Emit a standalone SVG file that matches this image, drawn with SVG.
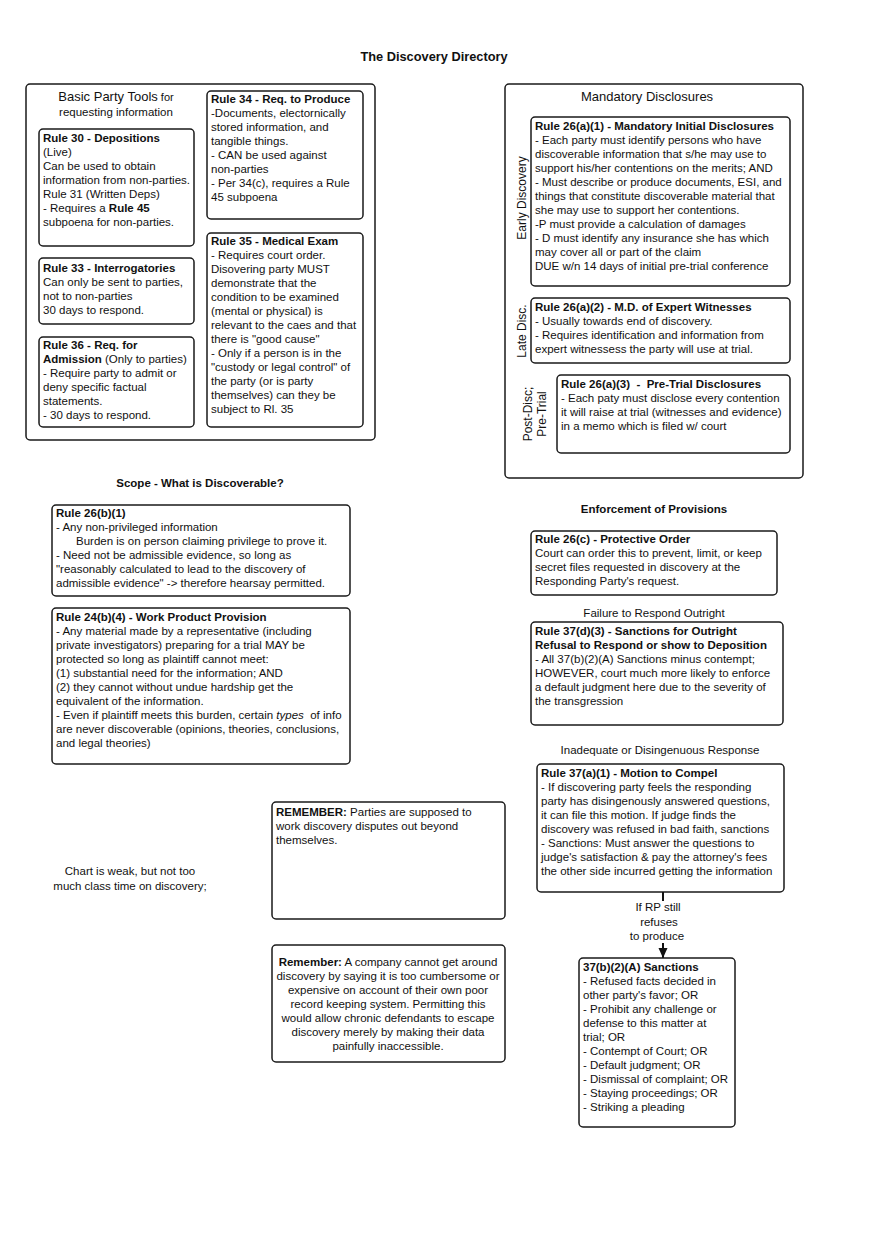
<svg xmlns="http://www.w3.org/2000/svg" width="880" height="1247" viewBox="0 0 880 1247">
<defs>
<style>
text{font-family:"Liberation Sans",Arial,sans-serif;font-size:11.5px;fill:#111}
.b{font-weight:bold}
.t{font-weight:bold;font-size:12.8px}
.h{font-weight:bold;font-size:11.5px}
.c{text-anchor:middle}
.box{fill:#fff;stroke:#1a1a1a;stroke-width:1.5}
.big{font-size:13px}
.v{font-size:12px}
</style>
<marker id="arr" markerWidth="10" markerHeight="10" refX="10" refY="5" orient="auto" markerUnits="userSpaceOnUse" viewBox="0 0 10 10">
<path d="M0,0.5 L10,5 L0,9.5 Z" fill="#111"/>
</marker>
</defs>
<rect width="880" height="1247" fill="#fff"/>
<text class="t c" x="434" y="61">The Discovery Directory</text>

<g id="basic-party-tools">
<rect class="box" x="26" y="84" width="349" height="356" rx="4"/>
<text class="c" x="116" y="101"><tspan class="big">Basic Party Tools</tspan><tspan font-size="11"> for</tspan></text>
<text class="c" x="116" y="116" font-size="11">requesting information</text>
</g>

<g id="rule30">
<rect class="box" x="39" y="129" width="155" height="117" rx="4"/>
<text x="43" y="142"><tspan class="b">Rule 30 - Depositions</tspan><tspan x="43" dy="14">(Live)</tspan><tspan x="43" dy="14">Can be used to obtain</tspan><tspan x="43" dy="14">information from non-parties.</tspan><tspan x="43" dy="14">Rule 31 (Written Deps)</tspan><tspan x="43" dy="14">- Requires a </tspan><tspan class="b">Rule 45</tspan><tspan x="43" dy="14">subpoena for non-parties.</tspan></text>
</g>

<g id="rule33">
<rect class="box" x="39" y="258" width="155" height="66" rx="4"/>
<text x="43" y="272"><tspan class="b">Rule 33 - Interrogatories</tspan><tspan x="43" dy="14">Can only be sent to parties,</tspan><tspan x="43" dy="14">not to non-parties</tspan><tspan x="43" dy="14">30 days to respond.</tspan></text>
</g>

<g id="rule36">
<rect class="box" x="39" y="337" width="155" height="90" rx="4"/>
<text x="43" y="349"><tspan class="b">Rule 36 - Req. for</tspan><tspan x="43" dy="14" class="b">Admission</tspan><tspan> (Only to parties)</tspan><tspan x="43" dy="14">- Require party to admit or</tspan><tspan x="43" dy="14">deny specific factual</tspan><tspan x="43" dy="14">statements.</tspan><tspan x="43" dy="14">- 30 days to respond.</tspan></text>
</g>

<g id="rule34">
<rect class="box" x="207" y="91" width="156" height="128" rx="4"/>
<text x="211" y="103"><tspan class="b">Rule 34 - Req. to Produce</tspan><tspan x="211" dy="14">-Documents, electornically</tspan><tspan x="211" dy="14">stored information, and</tspan><tspan x="211" dy="14">tangible things.</tspan><tspan x="211" dy="14">- CAN be used against</tspan><tspan x="211" dy="14">non-parties</tspan><tspan x="211" dy="14">- Per 34(c), requires a Rule</tspan><tspan x="211" dy="14">45 subpoena</tspan></text>
</g>

<g id="rule35">
<rect class="box" x="207" y="233" width="156" height="194" rx="4"/>
<text x="211" y="245"><tspan class="b">Rule 35 - Medical Exam</tspan><tspan x="211" dy="14">- Requires court order.</tspan><tspan x="211" dy="14">Disovering party MUST</tspan><tspan x="211" dy="14">demonstrate that the</tspan><tspan x="211" dy="14">condition to be examined</tspan><tspan x="211" dy="14">(mental or physical) is</tspan><tspan x="211" dy="14">relevant to the caes and that</tspan><tspan x="211" dy="14">there is "good cause"</tspan><tspan x="211" dy="14">- Only if a person is in the</tspan><tspan x="211" dy="14">"custody or legal control" of</tspan><tspan x="211" dy="14">the party (or is party</tspan><tspan x="211" dy="14">themselves) can they be</tspan><tspan x="211" dy="14">subject to Rl. 35</tspan></text>
</g>

<g id="mandatory-disclosures">
<rect class="box" x="505" y="84" width="298" height="394" rx="4"/>
<text class="c big" x="647" y="101">Mandatory Disclosures</text>
<text class="c v" transform="translate(526 198) rotate(-90)">Early Discovery</text>
<text class="c v" transform="translate(526 331) rotate(-90)">Late Disc.</text>
<text class="c v" transform="translate(532 414) rotate(-90)">Post-Disc;</text>
<text class="c v" transform="translate(546 414) rotate(-90)">Pre-Trial</text>
</g>

<g id="rule26a1">
<rect class="box" x="531" y="117" width="259" height="169" rx="4"/>
<text x="535" y="130"><tspan class="b">Rule 26(a)(1) - Mandatory Initial Disclosures</tspan><tspan x="535" dy="14">- Each party must identify persons who have</tspan><tspan x="535" dy="14">discoverable information that s/he may use to</tspan><tspan x="535" dy="14">support his/her contentions on the merits; AND</tspan><tspan x="535" dy="14">- Must describe or produce documents, ESI, and</tspan><tspan x="535" dy="14">things that constitute discoverable material that</tspan><tspan x="535" dy="14">she may use to support her contentions.</tspan><tspan x="535" dy="14">-P must provide a calculation of damages</tspan><tspan x="535" dy="14">- D must identify any insurance she has which</tspan><tspan x="535" dy="14">may cover all or part of the claim</tspan><tspan x="535" dy="14">DUE w/n 14 days of initial pre-trial conference</tspan></text>
</g>

<g id="rule26a2">
<rect class="box" x="531" y="298" width="259" height="65" rx="4"/>
<text x="535" y="311"><tspan class="b">Rule 26(a)(2) - M.D. of Expert Witnesses</tspan><tspan x="535" dy="14">- Usually towards end of discovery.</tspan><tspan x="535" dy="14">- Requires identification and information from</tspan><tspan x="535" dy="14">expert witnessess the party will use at trial.</tspan></text>
</g>

<g id="rule26a3">
<rect class="box" x="557" y="375" width="233" height="78" rx="4"/>
<text x="561" y="388"><tspan class="b">Rule 26(a)(3)&#160; -&#160; Pre-Trial Disclosures</tspan><tspan x="561" dy="14">- Each paty must disclose every contention</tspan><tspan x="561" dy="14">it will raise at trial (witnesses and evidence)</tspan><tspan x="561" dy="14">in a memo which is filed w/ court</tspan></text>
</g>

<text class="h c" x="200" y="487">Scope - What is Discoverable?</text>

<g id="rule26b1">
<rect class="box" x="52" y="505" width="298" height="91" rx="4"/>
<text x="56" y="517"><tspan class="b">Rule 26(b)(1)</tspan><tspan x="56" dy="14">- Any non-privileged information</tspan><tspan x="76" dy="14">Burden is on person claiming privilege to prove it.</tspan><tspan x="56" dy="14">- Need not be admissible evidence, so long as</tspan><tspan x="56" dy="14">"reasonably calculated to lead to the discovery of</tspan><tspan x="56" dy="14">admissible evidence" -&gt; therefore hearsay permitted.</tspan></text>
</g>

<g id="rule24b4">
<rect class="box" x="52" y="608" width="298" height="156" rx="4"/>
<text x="56" y="621"><tspan class="b">Rule 24(b)(4) - Work Product Provision</tspan><tspan x="56" dy="14">- Any material made by a representative (including</tspan><tspan x="56" dy="14">private investigators) preparing for a trial MAY be</tspan><tspan x="56" dy="14">protected so long as plaintiff cannot meet:</tspan><tspan x="56" dy="14">(1) substantial need for the information; AND</tspan><tspan x="56" dy="14">(2) they cannot without undue hardship get the</tspan><tspan x="56" dy="14">equivalent of the information.</tspan><tspan x="56" dy="14">- Even if plaintiff meets this burden, certain </tspan><tspan font-style="italic">types</tspan><tspan>&#160; of info</tspan><tspan x="56" dy="14">are never discoverable (opinions, theories, conclusions,</tspan><tspan x="56" dy="14">and legal theories)</tspan></text>
</g>

<text class="h c" x="654" y="513">Enforcement of Provisions</text>

<g id="rule26c">
<rect class="box" x="531" y="531" width="246" height="64" rx="4"/>
<text x="535" y="543"><tspan class="b">Rule 26(c) - Protective Order</tspan><tspan x="535" dy="14">Court can order this to prevent, limit, or keep</tspan><tspan x="535" dy="14">secret files requested in discovery at the</tspan><tspan x="535" dy="14">Responding Party's request.</tspan></text>
</g>

<text class="c" x="654" y="617">Failure to Respond Outright</text>

<g id="rule37d3">
<rect class="box" x="531" y="622" width="252" height="103" rx="4"/>
<text x="535" y="635"><tspan class="b">Rule 37(d)(3) - Sanctions for Outright</tspan><tspan x="535" dy="14" class="b">Refusal to Respond or show to Deposition</tspan><tspan x="535" dy="14">- All 37(b)(2)(A) Sanctions minus contempt;</tspan><tspan x="535" dy="14">HOWEVER, court much more likely to enforce</tspan><tspan x="535" dy="14">a default judgment here due to the severity of</tspan><tspan x="535" dy="14">the transgression</tspan></text>
</g>

<text class="c" x="660" y="754">Inadequate or Disingenuous Response</text>

<g id="rule37a1">
<rect class="box" x="537" y="764" width="247" height="128" rx="4"/>
<text x="541" y="777"><tspan class="b">Rule 37(a)(1) - Motion to Compel</tspan><tspan x="541" dy="14">- If discovering party feels the responding</tspan><tspan x="541" dy="14">party has disingenously answered questions,</tspan><tspan x="541" dy="14">it can file this motion. If judge finds the</tspan><tspan x="541" dy="14">discovery was refused in bad faith, sanctions</tspan><tspan x="541" dy="14">- Sanctions: Must answer the questions to</tspan><tspan x="541" dy="14">judge's satisfaction &amp; pay the attorney's fees</tspan><tspan x="541" dy="14">the other side incurred getting the information</tspan></text>
</g>

<g id="connectors">
<line x1="663" y1="892" x2="663" y2="958" stroke="#111" stroke-width="2" marker-end="url(#arr)"/>
<rect x="630" y="901" width="58" height="42" fill="#fff"/>
<text class="c" x="658" y="911">If RP still<tspan x="659" dy="15">refuses</tspan><tspan x="657" dy="14">to produce</tspan></text>
</g>

<g id="sanctions37b2a">
<rect class="box" x="579" y="958" width="156" height="169" rx="4"/>
<text x="583" y="971"><tspan class="b">37(b)(2)(A) Sanctions</tspan><tspan x="583" dy="14">- Refused facts decided in</tspan><tspan x="583" dy="14">other party's favor; OR</tspan><tspan x="583" dy="14">- Prohibit any challenge or</tspan><tspan x="583" dy="14">defense to this matter at</tspan><tspan x="583" dy="14">trial; OR</tspan><tspan x="583" dy="14">- Contempt of Court; OR</tspan><tspan x="583" dy="14">- Default judgment; OR</tspan><tspan x="583" dy="14">- Dismissal of complaint; OR</tspan><tspan x="583" dy="14">- Staying proceedings; OR</tspan><tspan x="583" dy="14">- Striking a pleading</tspan></text>
</g>

<g id="remember1">
<rect class="box" x="272" y="802" width="233" height="117" rx="4"/>
<text x="276" y="816"><tspan class="b">REMEMBER:</tspan><tspan> Parties are supposed to</tspan><tspan x="276" dy="14">work discovery disputes out beyond</tspan><tspan x="276" dy="14">themselves.</tspan></text>
</g>

<g id="remember2">
<rect class="box" x="272" y="945" width="233" height="117" rx="4"/>
<text class="c" x="388" y="966"><tspan class="b">Remember:</tspan><tspan> A company cannot get around</tspan><tspan x="388" dy="14">discovery by saying it is too cumbersome or</tspan><tspan x="388" dy="14">expensive on account of their own poor</tspan><tspan x="388" dy="14">record keeping system. Permitting this</tspan><tspan x="388" dy="14">would allow chronic defendants to escape</tspan><tspan x="388" dy="14">discovery merely by making their data</tspan><tspan x="388" dy="14">painfully inaccessible.</tspan></text>
</g>

<g id="note">
<text class="c" x="130" y="875">Chart is weak, but not too<tspan x="130" dy="15">much class time on discovery;</tspan></text>
</g>
</svg>
